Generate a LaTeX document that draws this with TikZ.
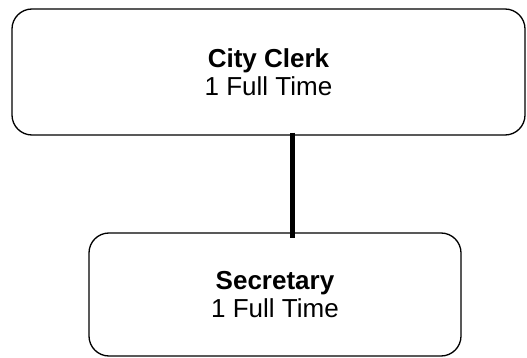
\documentclass[tikz,border=0pt]{standalone}
\usepackage{fontspec}
\setmainfont{Liberation Sans}
\begin{document}
\begin{tikzpicture}[x=1pt, y=1pt,
    every node/.style={font=\fontsize{26}{28.5}\selectfont},
    post/.style={align=center, draw, line width=1.3pt, rounded corners=20pt},
    link/.style={line width=5pt}]
    \useasboundingbox (0,0) rectangle (527,-358);
    \node[post, minimum width=513pt, minimum height=126pt] (clerk) at (268.5,-72) {\textbf{City Clerk}\\ 1 Full Time};
    \node[post, minimum width=372pt, minimum height=123pt] (secretary) at (275,-294.5) {\textbf{Secretary}\\ 1 Full Time};
    \draw[link] ([shift={(24,3)}]clerk.south) -- ([shift={(17.5,-6)}]secretary.north);
\end{tikzpicture}
\end{document}
